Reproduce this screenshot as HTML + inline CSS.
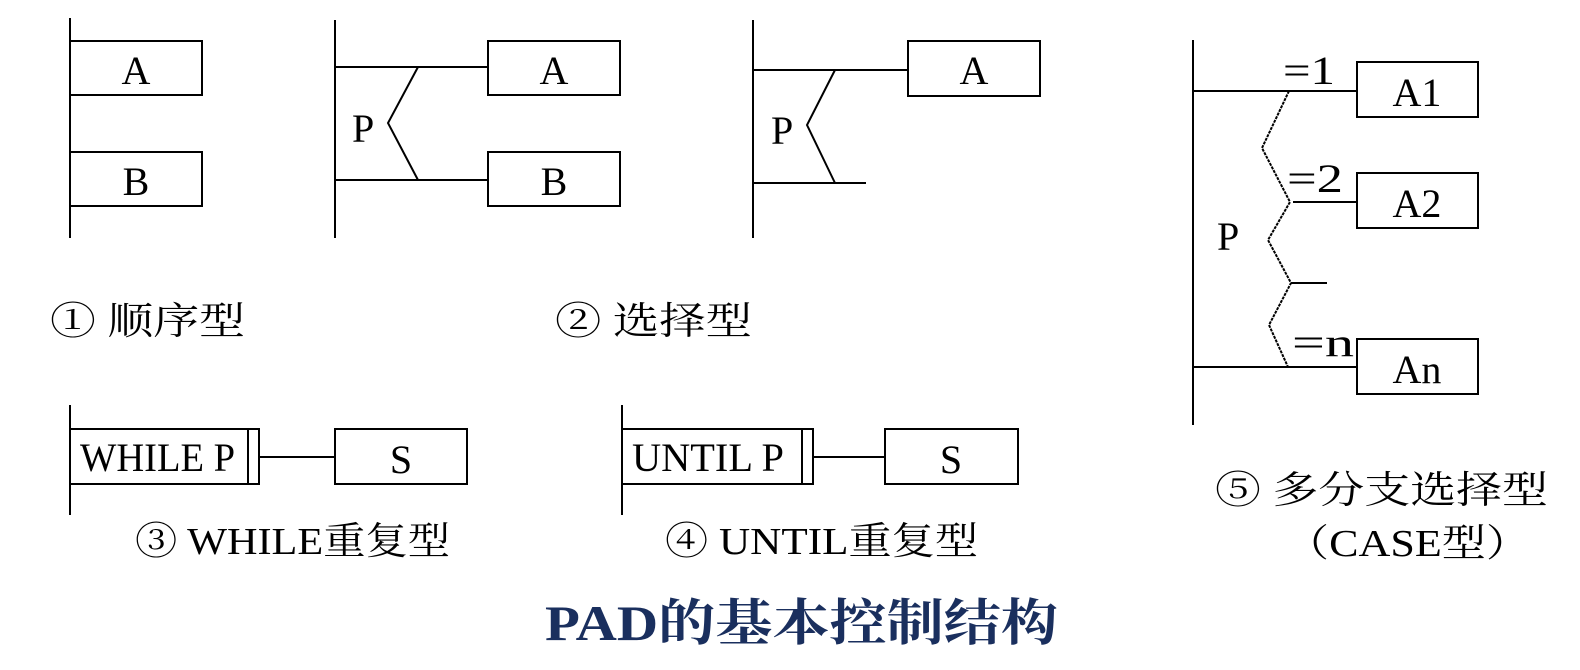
<!DOCTYPE html>
<html><head><meta charset="utf-8"><style>
html,body{margin:0;padding:0;background:#fff;width:1580px;height:670px;overflow:hidden}
svg text{font-family:"Liberation Serif","Noto Serif CJK SC",serif;fill:#000}
</style></head><body>
<svg width="1580" height="670" viewBox="0 0 1580 670" xmlns="http://www.w3.org/2000/svg">
<g stroke="#000" stroke-width="2" fill="none">
<line x1="70" y1="18" x2="70" y2="238"/>
<rect x="70" y="41" width="132" height="54"/>
<rect x="70" y="152" width="132" height="54"/>
<line x1="335" y1="20" x2="335" y2="238"/>
<line x1="335" y1="67" x2="488" y2="67"/>
<line x1="335" y1="180" x2="488" y2="180"/>
<polyline points="418,67 388,123 418,180"/>
<rect x="488" y="41" width="132" height="54"/>
<rect x="488" y="152" width="132" height="54"/>
<line x1="753" y1="20" x2="753" y2="238"/>
<line x1="753" y1="70" x2="908" y2="70"/>
<line x1="753" y1="183" x2="866" y2="183"/>
<polyline points="835,70 807,125 835,183"/>
<rect x="908" y="41" width="132" height="55"/>
<line x1="1193" y1="40" x2="1193" y2="425"/>
<line x1="1193" y1="91" x2="1357" y2="91"/>
<line x1="1293" y1="202" x2="1357" y2="202"/>
<line x1="1291" y1="283" x2="1327" y2="283"/>
<line x1="1193" y1="367" x2="1357" y2="367"/>
<polyline points="1289,91 1262,148 1290,202 1268,240 1291,283 1269,325 1288,367" stroke-dasharray="3,1"/>
<rect x="1357" y="62" width="121" height="55"/>
<rect x="1357" y="173" width="121" height="55"/>
<rect x="1357" y="339" width="121" height="55"/>
<line x1="70" y1="405" x2="70" y2="515"/>
<rect x="70" y="429" width="189" height="55"/>
<line x1="248" y1="429" x2="248" y2="484"/>
<line x1="259" y1="457" x2="335" y2="457"/>
<rect x="335" y="429" width="132" height="55"/>
<line x1="622" y1="405" x2="622" y2="515"/>
<rect x="622" y="429" width="191" height="55"/>
<line x1="802" y1="429" x2="802" y2="484"/>
<line x1="813" y1="457" x2="885" y2="457"/>
<rect x="885" y="429" width="133" height="55"/>
</g>
<g font-size="40" text-anchor="middle">
<text x="136" y="84">A</text>
<text x="136" y="195">B</text>
<text x="554" y="84">A</text>
<text x="554" y="195">B</text>
<text x="974" y="84">A</text>
<text x="1417" y="106">A1</text>
<text x="1417" y="217">A2</text>
<text x="1417" y="383">An</text>
<text x="401" y="473">S</text>
<text x="951" y="473">S</text>
</g>
<g font-size="40">
<text x="1283" y="84" textLength="52" lengthAdjust="spacingAndGlyphs">=1</text>
<text x="1287" y="192" textLength="56" lengthAdjust="spacingAndGlyphs">=2</text>
<text x="1292" y="356" textLength="62" lengthAdjust="spacingAndGlyphs">=n</text>
<text x="352" y="142">P</text>
<text x="771" y="144">P</text>
<text x="1217" y="250">P</text>
<text x="80" y="471" textLength="155" lengthAdjust="spacingAndGlyphs">WHILE P</text>
<text x="632" y="471" textLength="152" lengthAdjust="spacingAndGlyphs">UNTIL P</text>
</g>
<g font-size="38">
<text x="50" y="334" textLength="195" lengthAdjust="spacingAndGlyphs">① 顺序型</text>
<text x="555" y="334" textLength="197" lengthAdjust="spacingAndGlyphs">② 选择型</text>
<text x="135" y="554" textLength="315" lengthAdjust="spacingAndGlyphs">③ WHILE重复型</text>
<text x="665" y="554" textLength="313" lengthAdjust="spacingAndGlyphs">④ UNTIL重复型</text>
<text x="1215" y="503" textLength="333" lengthAdjust="spacingAndGlyphs">⑤ 多分支选择型</text>
<text x="1285" y="556" textLength="245" lengthAdjust="spacingAndGlyphs">（CASE型）</text>
</g>
<text x="545" y="640" font-size="50" font-weight="bold" textLength="513" lengthAdjust="spacingAndGlyphs" style="fill:#1a2f5e">PAD的基本控制结构</text>
</svg>
</body></html>
